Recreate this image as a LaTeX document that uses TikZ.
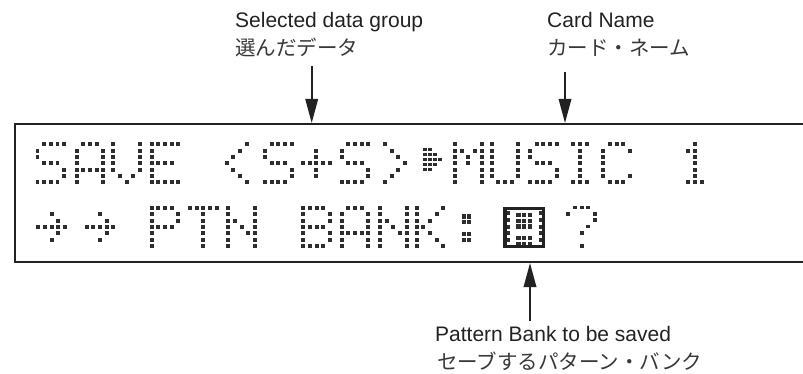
\documentclass[tikz,border=0pt]{standalone}
\usepackage{fontspec}
\setmainfont{Liberation Sans}
\newfontfamily\jpfont{Noto Sans CJK JP}
\usetikzlibrary{arrows.meta}
\definecolor{ink}{HTML}{222222}
\definecolor{dotc}{HTML}{2E2E2E}

\newcount\lcdc
\newcount\lcdr
\def\lcdpx{6.67}
\def\lcdpy{6.35}
\def\lcdds{3.8}
\def\lcdparse#1{\ifx#1\relax\else
  \if1#1\fill[lcddot] ({\lcdx+\the\lcdc*\lcdpx-0.5*\lcdds},{\lcdy+\the\lcdr*\lcdpy-0.5*\lcdds}) rectangle ++(\lcdds,\lcdds);\fi
  \advance\lcdc by 1 \expandafter\lcdparse\fi}
\def\lcdrows#1#2#3#4#5#6#7{%
  \lcdr=0 \lcdc=0 \lcdparse#1\relax
  \lcdr=1 \lcdc=0 \lcdparse#2\relax
  \lcdr=2 \lcdc=0 \lcdparse#3\relax
  \lcdr=3 \lcdc=0 \lcdparse#4\relax
  \lcdr=4 \lcdc=0 \lcdparse#5\relax
  \lcdr=5 \lcdc=0 \lcdparse#6\relax
  \lcdr=6 \lcdc=0 \lcdparse#7\relax}
\def\lcdput#1#2#3{\def\lcdx{#1}\def\lcdy{#2}\expandafter\lcdrows#3}

\def\gS{{01111}{10000}{10000}{01110}{00001}{00001}{11110}}
\def\gA{{01110}{10001}{10001}{10001}{11111}{10001}{10001}}
\def\gV{{10001}{10001}{10001}{10001}{10001}{01010}{00100}}
\def\gE{{11111}{10000}{10000}{11110}{10000}{10000}{11111}}
\def\gLt{{00010}{00100}{01000}{10000}{01000}{00100}{00010}}
\def\gPlus{{00000}{00100}{00100}{11111}{00100}{00100}{00000}}
\def\gGt{{10000}{01000}{00100}{00010}{00100}{01000}{10000}}
\def\gM{{10001}{11011}{10101}{10101}{10001}{10001}{10001}}
\def\gU{{10001}{10001}{10001}{10001}{10001}{10001}{01110}}
\def\gI{{01110}{00100}{00100}{00100}{00100}{00100}{01110}}
\def\gC{{01110}{10001}{10000}{10000}{10000}{10001}{01110}}
\def\gOne{{00100}{01100}{00100}{00100}{00100}{00100}{01110}}
\def\gArr{{00000}{00100}{00010}{11111}{00010}{00100}{00000}}
\def\gP{{11110}{10001}{10001}{11110}{10000}{10000}{10000}}
\def\gT{{11111}{00100}{00100}{00100}{00100}{00100}{00100}}
\def\gN{{10001}{10001}{11001}{10101}{10011}{10001}{10001}}
\def\gB{{11110}{10001}{10001}{11110}{10001}{10001}{11110}}
\def\gK{{10001}{10010}{10100}{11000}{10100}{10010}{10001}}
\def\gQ{{01110}{10001}{00001}{00010}{00100}{00000}{00100}}
\def\gTri{{1100}{1110}{1111}{1110}{1100}{0000}{0000}}
\def\gColon{{11}{11}{00}{11}{11}{00}{00}}
\def\gInner{{111}{111}{111}{000}{111}{111}{000}}
\def\gSides{{11}{11}{11}{11}{11}{00}{00}}

\begin{document}
\begin{tikzpicture}[x=1pt,y=-1pt,
  lcddot/.style={fill=dotc},
  frame/.style={draw=ink,line width=2.2pt},
  cursorbox/.style={draw=ink,line width=3.5pt},
  arr/.style={draw=ink,line width=1.8pt,-{Triangle[length=24pt,width=12.5pt]}},
  lab/.style={inner sep=0pt,anchor=base west,text=ink,font=\fontsize{21}{25}\selectfont},
  jlab/.style={inner sep=0pt,anchor=base west,text=ink!90,font=\jpfont\fontsize{20.5}{25}\selectfont}]
\useasboundingbox (0,0) rectangle (803,374);

% LCD frame
\draw[frame] (803,124) -- (15,124) -- (15,262) -- (803,262);

% Row 1: SAVE <S+S>|>MUSIC 1
\lcdput{37.5}{144.3}{\gS}
\lcdput{76.7}{144.3}{\gA}
\lcdput{113.3}{144.3}{\gV}
\lcdput{151.7}{144.3}{\gE}
\lcdput{226.7}{144.3}{\gLt}
\lcdput{265}{144.3}{\gS}
\lcdput{303}{144.3}{\gPlus}
\lcdput{341.7}{144.3}{\gS}
\lcdput{385}{144.3}{\gGt}
\def\lcdpx{5}\def\lcdpy{5}\def\lcdds{3.8}
\lcdput{425}{149.5}{\gTri}
\def\lcdpx{6.67}\def\lcdpy{6.35}\def\lcdds{3.8}
\lcdput{455}{144.3}{\gM}
\lcdput{491.7}{144.3}{\gU}
\lcdput{530}{144.3}{\gS}
\lcdput{566.7}{144.3}{\gI}
\lcdput{603.3}{144.3}{\gC}
\lcdput{681.7}{144.3}{\gOne}

% Row 2: -> -> PTN BANK: [A] ?
\lcdput{38.3}{208}{\gArr}
\lcdput{86.7}{208}{\gArr}
\lcdput{151.7}{208}{\gP}
\lcdput{190}{208}{\gT}
\lcdput{228.3}{208}{\gN}
\lcdput{303.3}{208}{\gB}
\lcdput{341.7}{208}{\gA}
\lcdput{380}{208}{\gN}
\lcdput{416.7}{208}{\gK}
\def\lcdpx{5.2}\def\lcdpy{5.8}\def\lcdds{4.2}
\lcdput{464}{216.5}{\gColon}
\def\lcdpx{5.8}
\lcdput{518.5}{215}{\gInner}
\def\lcdpx{33.5}\def\lcdpy{6.67}
\lcdput{507.5}{213.3}{\gSides}
\def\lcdpx{6.67}\def\lcdpy{6.35}\def\lcdds{3.8}
\lcdput{568.3}{207.5}{\gQ}

% cursor block
\draw[cursorbox] (504.8,208.5) rectangle (543.7,246.5);

% labels
\node[lab] (l1) at (235,28) {Selected data group};
\node[jlab] (j1) at (235,55.5) {選んだデータ};
\node[lab] (l2) at (547,28) {Card Name};
\node[jlab] (j2) at (547,55.5) {カード・ネーム};
\node[lab] (l3) at (435,341.7) {Pattern Bank to be saved};
\node[jlab] (j3) at (437,369) {セーブするパターン・バンク};

% arrows
\coordinate (a1from) at (311.7,66);
\coordinate (a1to) at (311.7,123);
\coordinate (a2from) at (565,72);
\coordinate (a2to) at (565,123);
\coordinate (a3from) at (530,321);
\coordinate (a3to) at (530,263);
\draw[arr] (a1from) -- (a1to);
\draw[arr] (a2from) -- (a2to);
\draw[arr] (a3from) -- (a3to);
\end{tikzpicture}
\end{document}
